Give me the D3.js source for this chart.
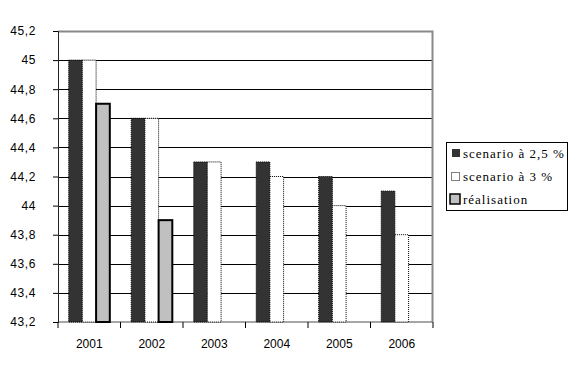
<!DOCTYPE html>
<html><head><meta charset="utf-8">
<script src="https://cdn.jsdelivr.net/npm/d3@7"></script>
<style>body{margin:0;background:#fff}svg{display:block}</style>
</head><body>
<script>
const years = ["2001","2002","2003","2004","2005","2006"];
const scenario25 = [45.0, 44.6, 44.3, 44.3, 44.2, 44.1];
const scenario3 = [45.0, 44.6, 44.3, 44.2, 44.0, 43.8];
const realisation = [44.7, 43.9, null, null, null, null];
const seriesNames = ["scenario à 2,5 %", "scenario à 3 %", "réalisation"];
const yTicks = [43.2,43.4,43.6,43.8,44,44.2,44.4,44.6,44.8,45,45.2];

const W = 581, H = 376;
const svg = d3.select("body").append("svg").attr("width", W).attr("height", H);
const x0 = d3.scaleBand().domain(years).range([58, 433]).paddingInner(0).paddingOuter(0);
const x1 = d3.scaleBand().domain([0,1,2]).range([0, x0.bandwidth()]).paddingInner(0).paddingOuter(0.78);
const y = d3.scaleLinear().domain([43.2, 45.2]).range([322, 31]);
const fmt = v => d3.format(".1f")(v).replace(/\.0$/, "").replace(".", ",");
const SANS = "'Liberation Sans', Arial, sans-serif";
const SERIF = "'Liberation Serif', 'Times New Roman', serif";

// grid lines
svg.append("g").selectAll("line").data(yTicks.filter(t => t > 43.25 && t < 45.15)).join("line")
  .attr("x1", 58).attr("x2", 433).attr("y1", d => Math.round(y(d)) + 0.5).attr("y2", d => Math.round(y(d)) + 0.5)
  .attr("stroke", "#000").attr("stroke-width", 1);
// plot border (gray)
svg.append("path").attr("d", `M58,31.5H432.5V322`).attr("fill", "none").attr("stroke", "#888").attr("stroke-width", 2);
svg.append("line").attr("x1", 58).attr("x2", 433).attr("y1", 322).attr("y2", 322).attr("stroke", "#888").attr("stroke-width", 1.5);

const styles = [
  {fill: "#333333", stroke: "#000", dash: "1,1", sw: 1},
  {fill: "#ffffff", stroke: "#000", dash: "1,1", sw: 1},
  {fill: "#c0c0c0", stroke: "#000", dash: null, sw: 2}
];
const allSeries = [scenario25, scenario3, realisation];
allSeries.forEach((vals, si) => {
  const st = styles[si];
  svg.append("g").selectAll("rect").data(years.map((yr, i) => ({yr, v: vals[i]})).filter(d => d.v != null)).join("rect")
    .attr("x", d => x0(d.yr) + x1(si))
    .attr("width", x1.bandwidth())
    .attr("y", d => y(d.v))
    .attr("height", d => y(43.2) - y(d.v))
    .attr("fill", st.fill).attr("stroke", st.stroke).attr("stroke-width", st.sw)
    .attr("stroke-dasharray", st.dash);
});

// y axis
const ya = svg.append("g").attr("transform", "translate(58,0)")
  .call(d3.axisLeft(y).tickValues(yTicks).tickFormat(fmt).tickSize(5).tickPadding(17));
ya.select(".domain").attr("stroke", "#222");
ya.selectAll("text").style("font-family", SANS).style("font-size", "12px").attr("fill", "#000").attr("letter-spacing", 0.6);
// x axis
const xa = svg.append("g").attr("transform", "translate(0,322)")
  .call(d3.axisBottom(x0).tickSize(0).tickPadding(17));
xa.select(".domain").remove();
xa.selectAll("text").style("font-family", SANS).style("font-size", "12px").attr("fill", "#000");
svg.append("g").selectAll("line").data(years.concat(["end"])).join("line")
  .attr("x1", d => d === "end" ? 433 : x0(d)).attr("x2", d => d === "end" ? 433 : x0(d))
  .attr("y1", 322).attr("y2", 328).attr("stroke", "#000");

// legend
const lg = svg.append("g");
lg.append("rect").attr("x", 446.5).attr("y", 142.5).attr("width", 121).attr("height", 68)
  .attr("fill", "#fff").attr("stroke", "#000");
const ly = [153, 176, 199];
seriesNames.forEach((nm, i) => {
  if (i === 0) lg.append("rect").attr("x", 452).attr("y", ly[i] - 4).attr("width", 8).attr("height", 8).attr("fill", "#333");
  if (i === 1) lg.append("rect").attr("x", 451.5).attr("y", ly[i] - 3.5).attr("width", 8).attr("height", 8).attr("fill", "#fff").attr("stroke", "#000").attr("stroke-dasharray", "1,1");
  if (i === 2) lg.append("rect").attr("x", 450).attr("y", ly[i] - 5).attr("width", 10).attr("height", 10).attr("fill", "#c0c0c0").attr("stroke", "#000").attr("stroke-width", 1.5);
  lg.append("text").attr("x", 463).attr("y", ly[i]).attr("dy", "0.35em")
    .style("font-family", SERIF).style("font-size", "13px")
    .attr("letter-spacing", 1).text(nm);
});
</script>
</body></html>
